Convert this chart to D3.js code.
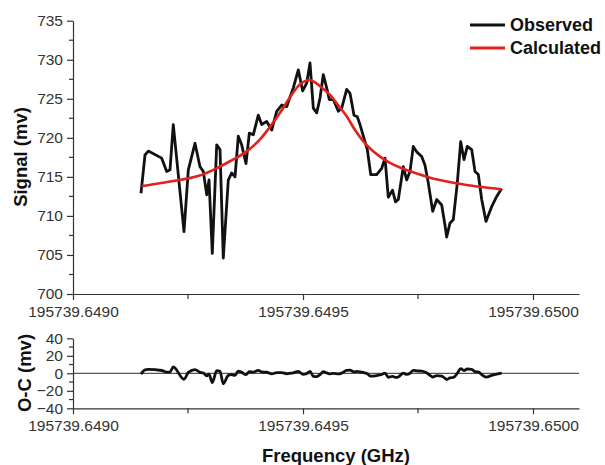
<!DOCTYPE html>
<html>
<head>
<meta charset="utf-8">
<script src="https://cdn.jsdelivr.net/npm/d3@7"></script>
<style>
  html, body { margin: 0; padding: 0; background: #fff; }
  svg { display: block; font-family: "Liberation Sans", Arial, sans-serif; }
  .tick text { fill: #333; font-size: 15.5px; }
  .axis path, .axis line { stroke: #333; stroke-width: 1.2; }
  .title { font-weight: bold; font-size: 18.5px; fill: #111; }
  .legend text { font-weight: bold; font-size: 18px; fill: #111; }
</style>
</head>
<body>
<svg id="chart" width="605" height="465"></svg>
<script>
// Observed spectrum (frequency in GHz, signal in mV)
const freqObs = [
  195739.6491478, 195739.6491565, 195739.6491637, 195739.6491928, 195739.6492037,
  195739.6492109, 195739.6492180, 195739.6492413, 195739.6492507, 195739.6492652,
  195739.6492761, 195739.6492833, 195739.6492907, 195739.6492957, 195739.6493028,
  195739.6493124, 195739.6493196, 195739.6493267, 195739.6493376, 195739.6493450,
  195739.6493522, 195739.6493593, 195739.6493667, 195739.6493761, 195739.6493833,
  195739.6493920, 195739.6494028, 195739.6494102, 195739.6494211, 195739.6494320,
  195739.6494428, 195739.6494537, 195739.6494646, 195739.6494717, 195739.6494789,
  195739.6494898, 195739.6494993, 195739.6495080, 195739.6495152, 195739.6495224,
  195739.6495298, 195739.6495370, 195739.6495441, 195739.6495515, 195739.6495572,
  195739.6495659, 195739.6495767, 195739.6495841, 195739.6495950, 195739.6496022,
  195739.6496109, 195739.6496180, 195739.6496239, 195739.6496398, 195739.6496472,
  195739.6496602, 195739.6496711, 195739.6496783, 195739.6496854, 195739.6496946,
  195739.6497011, 195739.6497072, 195739.6497180, 195739.6497254, 195739.6497326,
  195739.6497398, 195739.6497472, 195739.6497580, 195739.6497652, 195739.6497724,
  195739.6497820, 195739.6497907, 195739.6498015, 195739.6498087, 195739.6498124,
  195739.6498196, 195739.6498267, 195739.6498354, 195739.6498428, 195739.6498500,
  195739.6498572, 195739.6498667, 195739.6498739, 195739.6498811, 195739.6498885,
  195739.6498978, 195739.6499102, 195739.6499211, 195739.6499320
];
const signalObs = [
  712.9, 717.8, 718.3, 717.4, 715.7, 715.9, 721.7, 708.0, 715.9, 719.3,
  716.3, 715.7, 712.7, 714.6, 705.2, 719.1, 718.5, 704.6, 714.6, 715.5,
  715.0, 720.2, 719.1, 716.7, 720.6, 720.4, 722.9, 721.7, 722.1, 721.0,
  723.4, 724.2, 724.0, 725.2, 726.4, 728.7, 726.0, 727.0, 729.6, 723.8,
  723.2, 725.1, 728.1, 726.4, 724.9, 724.9, 723.4, 723.8, 726.2, 725.7,
  722.9, 722.7, 721.7, 718.5, 715.3, 715.3, 716.1, 717.4, 712.4, 713.3,
  711.8, 712.1, 716.3, 714.6, 715.7, 718.9, 718.2, 717.6, 716.5, 714.2,
  710.6, 712.1, 711.4, 708.8, 707.3, 709.1, 709.5, 714.2, 719.5, 717.2,
  718.9, 718.5, 715.7, 715.3, 712.1, 709.3, 711.2, 712.5, 713.5
];
// Observed minus calculated, at the observed frequencies (mV)
const residual = [
  -0.9, 3.9, 4.4, 3.2, 1.4, 1.5, 7.2, -6.8, 1.0, 4.3,
  1.1, 0.3, -2.9, -1.1, -10.7, 3.0, 2.2, -12.0, -2.3, -1.6,
  -2.4, 2.6, 1.2, -1.5, 2.0, 1.4, 3.3, 1.6, 1.2, -0.7,
  0.8, 0.7, -0.5, 0.0, 0.6, 2.1, -1.1, -0.3, 2.3, -3.4,
  -3.7, -1.5, 1.9, 0.5, -0.7, -0.1, -0.7, 0.2, 3.4, 3.6,
  1.7, 2.1, 1.6, -0.5, -3.3, -2.6, -1.4, 0.2, -4.5, -3.4,
  -4.7, -4.2, 0.3, -1.3, 0.0, 3.3, 2.8, 2.4, 1.4, -0.8,
  -4.2, -2.6, -3.2, -5.7, -7.1, -5.2, -4.8, 0.0, 5.4, 3.2,
  4.9, 4.6, 1.9, 1.5, -1.6, -4.3, -2.4, -1.0, 0.1
];
// Calculated line profile
const freqCalc = [
  195739.6491493, 195739.6492109, 195739.6492717, 195739.6493087, 195739.6493413,
  195739.6493783, 195739.6494065, 195739.6494283, 195739.6494500, 195739.6494717,
  195739.6494891, 195739.6495022, 195739.6495130, 195739.6495261, 195739.6495413,
  195739.6495587, 195739.6495761, 195739.6495957, 195739.6496130, 195739.6496304,
  195739.6496500, 195739.6496674, 195739.6496891, 195739.6497109, 195739.6497391,
  195739.6497761, 195739.6498130, 195739.6498522, 195739.6498891, 195739.6499320
];
const signalCalc = [
  713.8, 714.4, 715.1, 716.0, 717.0, 718.3, 719.8, 721.4, 723.2, 725.2,
  726.6, 727.2, 727.4, 727.1, 726.4, 725.5, 724.2, 722.7, 721.0, 719.6,
  718.4, 717.6, 716.8, 716.2, 715.6, 714.9, 714.4, 714.0, 713.7, 713.4
];

// Axis ticks
const xTickValues = [195739.6490, 195739.6495, 195739.6500];
const xTickLabels = ["195739.6490", "195739.6495", "195739.6500"];
const xMinorTicks = [195739.64925, 195739.64975];
const yTicksTop = [700, 705, 710, 715, 720, 725, 730, 735];
const yMinorTop = [702.5, 707.5, 712.5, 717.5, 722.5, 727.5, 732.5];
const yTicksBottom = [-40, -20, 0, 20, 40];
const yMinorBottom = [-30, -10, 10, 30];

const seriesNames = ["Observed", "Calculated"];
const seriesColors = ["#111111", "#e3201b"];

const svg = d3.select("#chart");

const x = d3.scaleLinear().domain([195739.6490, 195739.6501]).range([73, 579]);
const yTop = d3.scaleLinear().domain([700, 735]).range([294, 20.7]);
const yBot = d3.scaleLinear().domain([-40, 40]).range([408.3, 338.3]);

function xAxis(g, y0) {
  g.attr("class", "axis").attr("transform", `translate(0,${y0})`)
    .call(d3.axisBottom(x).tickValues(xTickValues)
      .tickFormat((d, i) => xTickLabels[i]).tickSize(6).tickSizeOuter(0).tickPadding(6));
  g.selectAll(".minor").data(xMinorTicks).join("line")
    .attr("class", "minor")
    .attr("x1", d => x(d)).attr("x2", d => x(d))
    .attr("y1", 0).attr("y2", 5);
}
function yAxis(g, scale, ticks, minor) {
  g.attr("class", "axis").attr("transform", "translate(73,0)")
    .call(d3.axisLeft(scale).tickValues(ticks).tickSize(6).tickSizeOuter(0).tickPadding(4));
  g.selectAll(".minor").data(minor).join("line")
    .attr("class", "minor")
    .attr("x1", 0).attr("x2", -4)
    .attr("y1", d => scale(d)).attr("y2", d => scale(d));
}

// Upper panel: spectrum
svg.append("g").call(g => xAxis(g, 294));
svg.append("g").call(g => yAxis(g, yTop, yTicksTop, yMinorTop));

const obsData = freqObs.map((f, i) => [f, signalObs[i]]);
const calcData = freqCalc.map((f, i) => [f, signalCalc[i]]);

svg.append("path")
  .datum(obsData)
  .attr("fill", "none")
  .attr("stroke", seriesColors[0])
  .attr("stroke-width", 2.8)
  .attr("stroke-linejoin", "round")
  .attr("d", d3.line().x(d => x(d[0])).y(d => yTop(d[1])));

svg.append("path")
  .datum(calcData)
  .attr("fill", "none")
  .attr("stroke", seriesColors[1])
  .attr("stroke-width", 2.6)
  .attr("d", d3.line().curve(d3.curveMonotoneX).x(d => x(d[0])).y(d => yTop(d[1])));

// Legend
const legend = svg.append("g").attr("class", "legend");
seriesNames.forEach((name, i) => {
  const ly = 25 + i * 23;
  legend.append("line")
    .attr("x1", 470).attr("x2", 505).attr("y1", ly).attr("y2", ly)
    .attr("stroke", seriesColors[i]).attr("stroke-width", 3);
  legend.append("text")
    .attr("x", 510).attr("y", ly).attr("dy", "0.36em")
    .text(name);
});

// Lower panel: residuals
svg.append("line")
  .attr("x1", 73).attr("x2", 579)
  .attr("y1", yBot(0)).attr("y2", yBot(0))
  .attr("stroke", "#555").attr("stroke-width", 1.2);
svg.append("g").call(g => xAxis(g, 408.3));
svg.append("g").call(g => yAxis(g, yBot, yTicksBottom, yMinorBottom));

svg.append("path")
  .datum(freqObs.map((f, i) => [f, residual[i]]))
  .attr("fill", "none")
  .attr("stroke", "#111")
  .attr("stroke-width", 2.8)
  .attr("stroke-linejoin", "round")
  .attr("d", d3.line().curve(d3.curveMonotoneX).x(d => x(d[0])).y(d => yBot(d[1])));

// Axis titles
svg.append("text").attr("class", "title")
  .attr("transform", "translate(20,157) rotate(-90)")
  .attr("text-anchor", "middle").attr("dy", "0.36em")
  .text("Signal (mv)");
svg.append("text").attr("class", "title")
  .attr("transform", "translate(24,373) rotate(-90)")
  .attr("text-anchor", "middle").attr("dy", "0.36em")
  .text("O-C (mv)");
svg.append("text").attr("class", "title")
  .attr("x", 336).attr("y", 462)
  .attr("text-anchor", "middle")
  .text("Frequency (GHz)");
</script>
</body>
</html>
